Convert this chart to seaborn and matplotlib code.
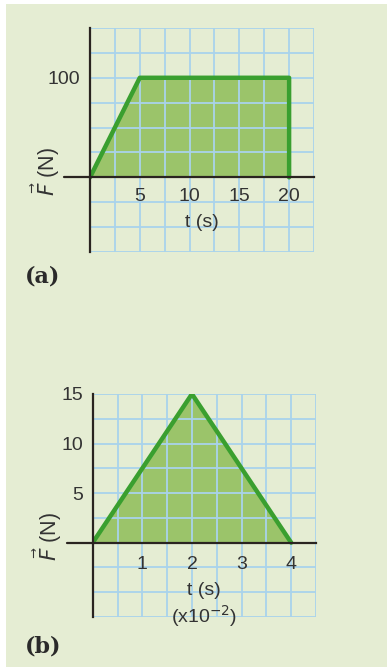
import numpy as np
import pandas as pd
import matplotlib
matplotlib.use("Agg")
import matplotlib.pyplot as plt
import seaborn as sns
from matplotlib.patches import Rectangle

# data
t_a = [0, 5, 20, 20]
f_a = [0, 100, 100, 0]
t_b = [0, 2, 4]
f_b = [0, 15, 0]

xgrid_a = np.arange(0, 22.6, 2.5)
ygrid_a = np.arange(-75, 151, 25)
xlab_a = {5: "5", 10: "10", 15: "15", 20: "20"}
ylab_a = {100: "100"}

xgrid_b = np.arange(0, 4.6, 0.5)
ygrid_b = np.arange(-7.5, 15.1, 2.5)
xlab_b = {1: "1", 2: "2", 3: "3", 4: "4"}
ylab_b = {5: "5", 10: "10", 15: "15"}

bg = "#E5EDD3"
grid_col = "#A9D3EC"
line_col = "#3A9F2F"
fill_col = "#9BC46A"
axis_col = "#2A2420"
text_col = "#333333"

sns.set_style("white")
plt.rcParams["font.family"] = ["Liberation Sans", "DejaVu Sans"]

fig = plt.figure(figsize=(3.87, 6.67), dpi=100)
fig.patch.set_facecolor("white")
fig.add_artist(Rectangle((6 / 387, 0), 1, 663 / 667, transform=fig.transFigure,
                         facecolor=bg, edgecolor="none", zorder=0))


def panel(rect, t, f, xgrid, ygrid, xlabs, ylabs, xlabel, ylab_pos, ext, xpad, lpad):
    ax = fig.add_axes(rect)
    ax.set_facecolor("none")
    ax.fill_between(t, f, 0, color=fill_col, lw=0, zorder=1)
    df = pd.DataFrame({"t": t, "F": f})
    sns.lineplot(data=df, x="t", y="F", sort=False, estimator=None,
                 color=line_col, lw=3.2, ax=ax, zorder=4)
    ax.set_xlim(xgrid[0], xgrid[-1])
    ax.set_ylim(ygrid[0], ygrid[-1])
    ax.set_xticks(xgrid)
    ax.set_xticklabels([xlabs.get(round(v, 2), "") for v in xgrid])
    ax.set_yticks(ygrid)
    ax.set_yticklabels([ylabs.get(round(v, 2), "") for v in ygrid])
    ax.grid(True, color=grid_col, lw=1.3)
    ax.set_axisbelow(False)
    # x axis after y axis so its labels sit over the horizontal grid lines
    ax.xaxis.set_zorder(2.6)
    for s in ["top", "right"]:
        ax.spines[s].set_visible(False)
    ax.spines["bottom"].set_position(("data", 0))
    for s in ["bottom", "left"]:
        ax.spines[s].set_color(axis_col)
        ax.spines[s].set_linewidth(1.6)
        ax.spines[s].set_zorder(5)
    # short stub of the time axis left of the origin
    ax.plot([-ext, 0], [0, 0], color=axis_col, lw=1.6, clip_on=False, zorder=5)
    ax.tick_params(length=0, labelsize=14, labelcolor=text_col)
    ax.tick_params(axis="x", pad=xpad)
    ax.tick_params(axis="y", pad=7)
    ax.set_xlabel(xlabel, fontsize=14, color=text_col, labelpad=lpad, linespacing=1.25)
    ax.set_ylabel(r"$\vec{F}$ (N)", fontsize=15.5, color=text_col)
    ax.yaxis.set_label_coords(*ylab_pos)
    return ax


panel([90 / 387, 415 / 667, 224 / 387, 224 / 667], t_a, f_a, xgrid_a, ygrid_a,
      xlab_a, ylab_a, "t (s)", (-0.125, 0.36), 2.6, 7.5, 6.8)
panel([92.7 / 387, 50 / 667, 223.3 / 387, 223 / 667], t_b, f_b, xgrid_b, ygrid_b,
      xlab_b, ylab_b, "t (s)\n(x10$^{-2}$)", (-0.13, 0.36), 0.52, 9.5, 6.3)

fig.text(25 / 387, 1 - 277 / 667, "(a)", fontsize=16, fontweight="bold",
         family="DejaVu Serif", color="#2a2a2a", va="center")
fig.text(25 / 387, 1 - 647 / 667, "(b)", fontsize=16, fontweight="bold",
         family="DejaVu Serif", color="#2a2a2a", va="center")

fig.savefig("out.png", dpi=100, facecolor=fig.get_facecolor())
